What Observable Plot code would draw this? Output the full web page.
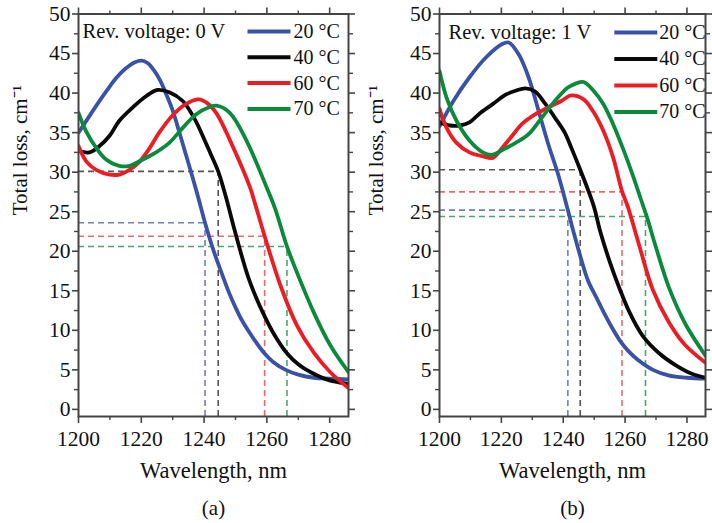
<!DOCTYPE html>
<html>
<head>
<meta charset="utf-8">
<script src="https://cdn.jsdelivr.net/npm/d3@7"></script>
<script src="https://cdn.jsdelivr.net/npm/@observablehq/plot@0.6"></script>
<style>
  body { margin: 0; background: #fff; }
  #row { display: flex; width: 712px; height: 523px; }
</style>
</head>
<body>
<div id="row"></div>
<script>
// ---------- data ----------
const seriesLabels = ["20 °C", "40 °C", "60 °C", "70 °C"];
const xTicks = [1200, 1220, 1240, 1260, 1280];
const yTicks = [0, 5, 10, 15, 20, 25, 30, 35, 40, 45, 50];
const panelTitles = ["Rev. voltage: 0 V", "Rev. voltage: 1 V"];
const panelCaptions = ["(a)", "(b)"];
const xLabel = "Wavelength, nm";
const yLabel = "Total loss, cm⁻¹";

// Panel (a): 0 V
const a20 = [[1200,35.0],[1203,36.8],[1206,38.6],[1209,40.3],[1212,41.9],[1215,43.1],[1218,43.9],[1220,44.1],[1222,43.8],[1224,42.9],[1226,41.6],[1228,39.8],[1230,37.8],[1232,35.2],[1234,32.5],[1236,29.8],[1238,27.0],[1240.3,23.6],[1243,20.1],[1246,16.8],[1248,14.7],[1250,12.9],[1252,11.3],[1254,10.0],[1256,8.8],[1259,7.2],[1262,6.0],[1266,5.0],[1270,4.4],[1275,4.0],[1280,3.9],[1286,3.8]];
const a40 = [[1200,32.7],[1203.5,32.5],[1206.7,33.3],[1209.9,34.6],[1213,36.5],[1217.3,38.2],[1221.5,39.6],[1225.2,40.4],[1228.9,40.1],[1233.2,39.0],[1236.9,36.8],[1240,34.2],[1242,32.4],[1244.5,30.1],[1247,26.8],[1249.5,23.0],[1252,19.4],[1254,16.8],[1256.5,14.2],[1259,12.0],[1262,9.7],[1266.4,7.1],[1270,5.7],[1274,4.7],[1279,3.8],[1286,3.2]];
const a60 = [[1200,33.3],[1202.4,31.4],[1205.6,30.3],[1209.9,29.7],[1213,29.7],[1216.2,30.3],[1219.4,31.3],[1222.6,33.0],[1225.7,35.0],[1230,37.2],[1234.2,38.6],[1238.3,39.2],[1241.1,38.7],[1244,37.4],[1249.3,33.1],[1254.6,28.1],[1256.4,25.8],[1259.3,21.9],[1264.3,15.7],[1269.6,10.6],[1274.9,7.2],[1280.2,4.7],[1286,2.7]];
const a70 = [[1200,37.5],[1202.4,35.2],[1205.6,33.1],[1208.8,31.6],[1213,30.8],[1216.2,30.8],[1220.5,31.6],[1224.7,32.5],[1228.9,33.7],[1233.2,35.6],[1237.4,37.3],[1241.6,38.2],[1244,38.4],[1248.2,37.5],[1253.5,34.0],[1259.9,28.1],[1262.7,25.3],[1266.4,20.6],[1269.6,17.3],[1274.9,12.3],[1280.2,8.1],[1286,4.7]];
// crossing markers (a): [wavelength, loss]
const aCross = [[1240.3,23.6],[1244.5,30.1],[1259.3,21.9],[1266.4,20.6]];

// Panel (b): 1 V
const b20 = [[1200,35.8],[1204.5,39.0],[1209.7,42.0],[1215,44.5],[1220.3,46.2],[1222.4,46.4],[1225.6,44.9],[1228.8,42.0],[1232,37.8],[1235.2,33.5],[1238.3,29.8],[1241.5,25.2],[1243.5,22.2],[1245.8,19.0],[1248,16.3],[1250.9,14.0],[1253.2,12.2],[1255.1,10.8],[1258.5,8.6],[1261,7.4],[1264,6.3],[1269,5.0],[1274,4.3],[1280,4.0],[1286,3.9]];
const b40 = [[1200,36.3],[1203.4,35.9],[1206.5,35.9],[1209.7,36.3],[1212.9,37.4],[1217.2,38.6],[1221.4,39.8],[1224.6,40.3],[1227.8,40.6],[1230.9,40.2],[1234.1,38.7],[1237.3,36.9],[1240.5,35.0],[1242.6,33.1],[1245.5,30.3],[1249.8,25.8],[1251.9,22.6],[1255.1,18.6],[1258.3,15.2],[1261.4,12.3],[1265.7,9.3],[1271,7.1],[1276.3,5.6],[1281.6,4.5],[1286,4.0]];
const b60 = [[1200,38.0],[1202.3,35.6],[1205.5,33.7],[1209.7,32.5],[1214,32.0],[1217.2,31.8],[1220.3,33.1],[1223.5,34.6],[1226.7,36.1],[1230.9,37.3],[1235.2,38.2],[1239.4,39.0],[1242.6,39.7],[1246.6,39.2],[1249.8,37.6],[1253,35.2],[1256.1,31.9],[1259,27.6],[1260.9,25.6],[1264.6,20.7],[1268.9,15.2],[1274.2,11.0],[1279.5,8.1],[1286,5.9]];
const b70 = [[1200,42.8],[1202.3,39.4],[1205.5,36.5],[1209.7,34.0],[1214,32.5],[1217.2,32.2],[1220.3,32.8],[1224.6,33.7],[1228.8,34.8],[1233.1,36.9],[1237.3,39.0],[1241.5,40.7],[1244,41.2],[1246.6,41.4],[1249.8,40.3],[1253,38.6],[1256.1,36.1],[1259.3,33.0],[1262.5,29.6],[1265,26.7],[1267,24.4],[1269.9,20.6],[1274.2,15.4],[1279.5,10.8],[1286,6.8]];
const bCross = [[1241.5,25.2],[1245.5,30.3],[1259,27.5],[1266.6,24.4]];

// ---------- styling ----------
const lineColors = ["#3a52a6", "#0a0a0a", "#ec1c24", "#0c8a3c"];
const dashColors = ["#6f7fc0", "#555555", "#ee6b6b", "#4aa66e"];
const FONT = "'Liberation Serif', 'Times New Roman', serif";
const X_DOMAIN = [1200, 1286];
const Y_DOMAIN = [-0.9, 50];

const legendLineSymbol = {
  draw(ctx) { ctx.moveTo(-21.5, 0); ctx.lineTo(21.5, 0); }
};

function panel(curves, cross, title, caption, lay) {
  const toRows = (arr, i) => arr.map(([x, y]) => ({x, y, s: seriesLabels[i]}));
  const rows = curves.flatMap((c, i) => toRows(c, i));
  const crossRows = cross.map(([x, y], i) => ({x, y, s: seriesLabels[i], c: dashColors[i]}));
  const minorX = xTicks.map(t => t + 10).filter(v => v <= X_DOMAIN[1]);
  const minorY = yTicks.slice(0, -1).map(t => t + 2.5);
  const axisCol = "#444";
  const marks = [
    Plot.ruleY(crossRows, {y: "y", x1: () => X_DOMAIN[0], x2: "x", stroke: "c", strokeWidth: 1.6, strokeDasharray: "6,4"}),
    Plot.ruleX(crossRows, {x: "x", y1: () => Y_DOMAIN[0], y2: "y", stroke: "c", strokeWidth: 1.6, strokeDasharray: "6,4"}),
    Plot.line(rows, {x: "x", y: "y", z: "s", stroke: "s", strokeWidth: 3.8, curve: "catmull-rom", clip: true}),
    Plot.frame({stroke: axisCol, strokeWidth: 2}),
    Plot.axisX({anchor: "bottom", ticks: xTicks, tickSize: 7, tickPadding: 7, tickFormat: d => String(d), label: null, stroke: axisCol, strokeWidth: 1.6, fill: "#111", fontSize: 21.5}),
    Plot.axisX({anchor: "bottom", ticks: minorX, tickSize: 4, text: null, label: null, stroke: axisCol, strokeWidth: 1.4}),
    Plot.axisX({anchor: "top", ticks: xTicks, tickSize: 7, text: null, label: null, stroke: axisCol, strokeWidth: 1.6}),
    Plot.axisX({anchor: "top", ticks: minorX, tickSize: 4, text: null, label: null, stroke: axisCol, strokeWidth: 1.4}),
    Plot.axisY({anchor: "left", ticks: yTicks, tickSize: 6, tickPadding: 2, tickFormat: d => String(d), label: null, stroke: axisCol, strokeWidth: 1.6, fill: "#111", fontSize: 21.5}),
    Plot.axisY({anchor: "left", ticks: minorY, tickSize: 4, text: null, label: null, stroke: axisCol, strokeWidth: 1.4}),
    Plot.axisY({anchor: "right", ticks: yTicks, tickSize: 6, text: null, label: null, stroke: axisCol, strokeWidth: 1.6}),
    Plot.axisY({anchor: "right", ticks: minorY, tickSize: 4, text: null, label: null, stroke: axisCol, strokeWidth: 1.4}),
    Plot.text([xLabel], {frameAnchor: "bottom", dy: 54, lineAnchor: "middle", fontSize: 22.5, fill: "#111"}),
    Plot.text([yLabel], {frameAnchor: "left", dx: lay.yLabelDx, rotate: -90, lineAnchor: "middle", fontSize: 21, fill: "#111"}),
    Plot.text([caption], {frameAnchor: "bottom", dy: 92, lineAnchor: "middle", fontSize: 21, fill: "#111"}),
    Plot.text([title], {frameAnchor: "top-left", dx: lay.titleDx, dy: lay.legendDy0, textAnchor: "start", lineAnchor: "middle", fontSize: 20.5, fill: "#111"})
  ];
  seriesLabels.forEach((lab, i) => {
    const dy = lay.legendDy0 + i * lay.legendGap;
    marks.push(Plot.dot([lab], {frameAnchor: "top-right", dx: lay.legLineDx, dy, symbol: legendLineSymbol, stroke: lineColors[i], strokeWidth: 4, fill: "none"}));
    marks.push(Plot.text([lab], {frameAnchor: "top-right", dx: lay.legTextDx, dy, textAnchor: "start", lineAnchor: "middle", fontSize: 20, fill: "#111"}));
  });
  return Plot.plot({
    width: 356,
    height: 523,
    marginTop: 13.5,
    marginBottom: 107,
    marginLeft: lay.ml,
    marginRight: lay.mr,
    style: {fontFamily: FONT, fontSize: "20px", background: "#fff", color: "#111", overflow: "visible"},
    x: {domain: X_DOMAIN, axis: null},
    y: {domain: Y_DOMAIN, axis: null},
    color: {domain: seriesLabels, range: lineColors},
    marks
  });
}

const row = document.getElementById("row");
row.append(panel([a20, a40, a60, a70], aCross, panelTitles[0], panelCaptions[0],
  {ml: 78, mr: 8, yLabelDx: -58, titleDx: 4, legendDy0: 17.5, legendGap: 25.8, legLineDx: -79.5, legTextDx: -55}));
row.append(panel([b20, b40, b60, b70], bCross, panelTitles[1], panelCaptions[1],
  {ml: 83, mr: 7, yLabelDx: -63, titleDx: 9, legendDy0: 18.5, legendGap: 26.5, legLineDx: -69.7, legTextDx: -46.3}));
</script>
</body>
</html>
